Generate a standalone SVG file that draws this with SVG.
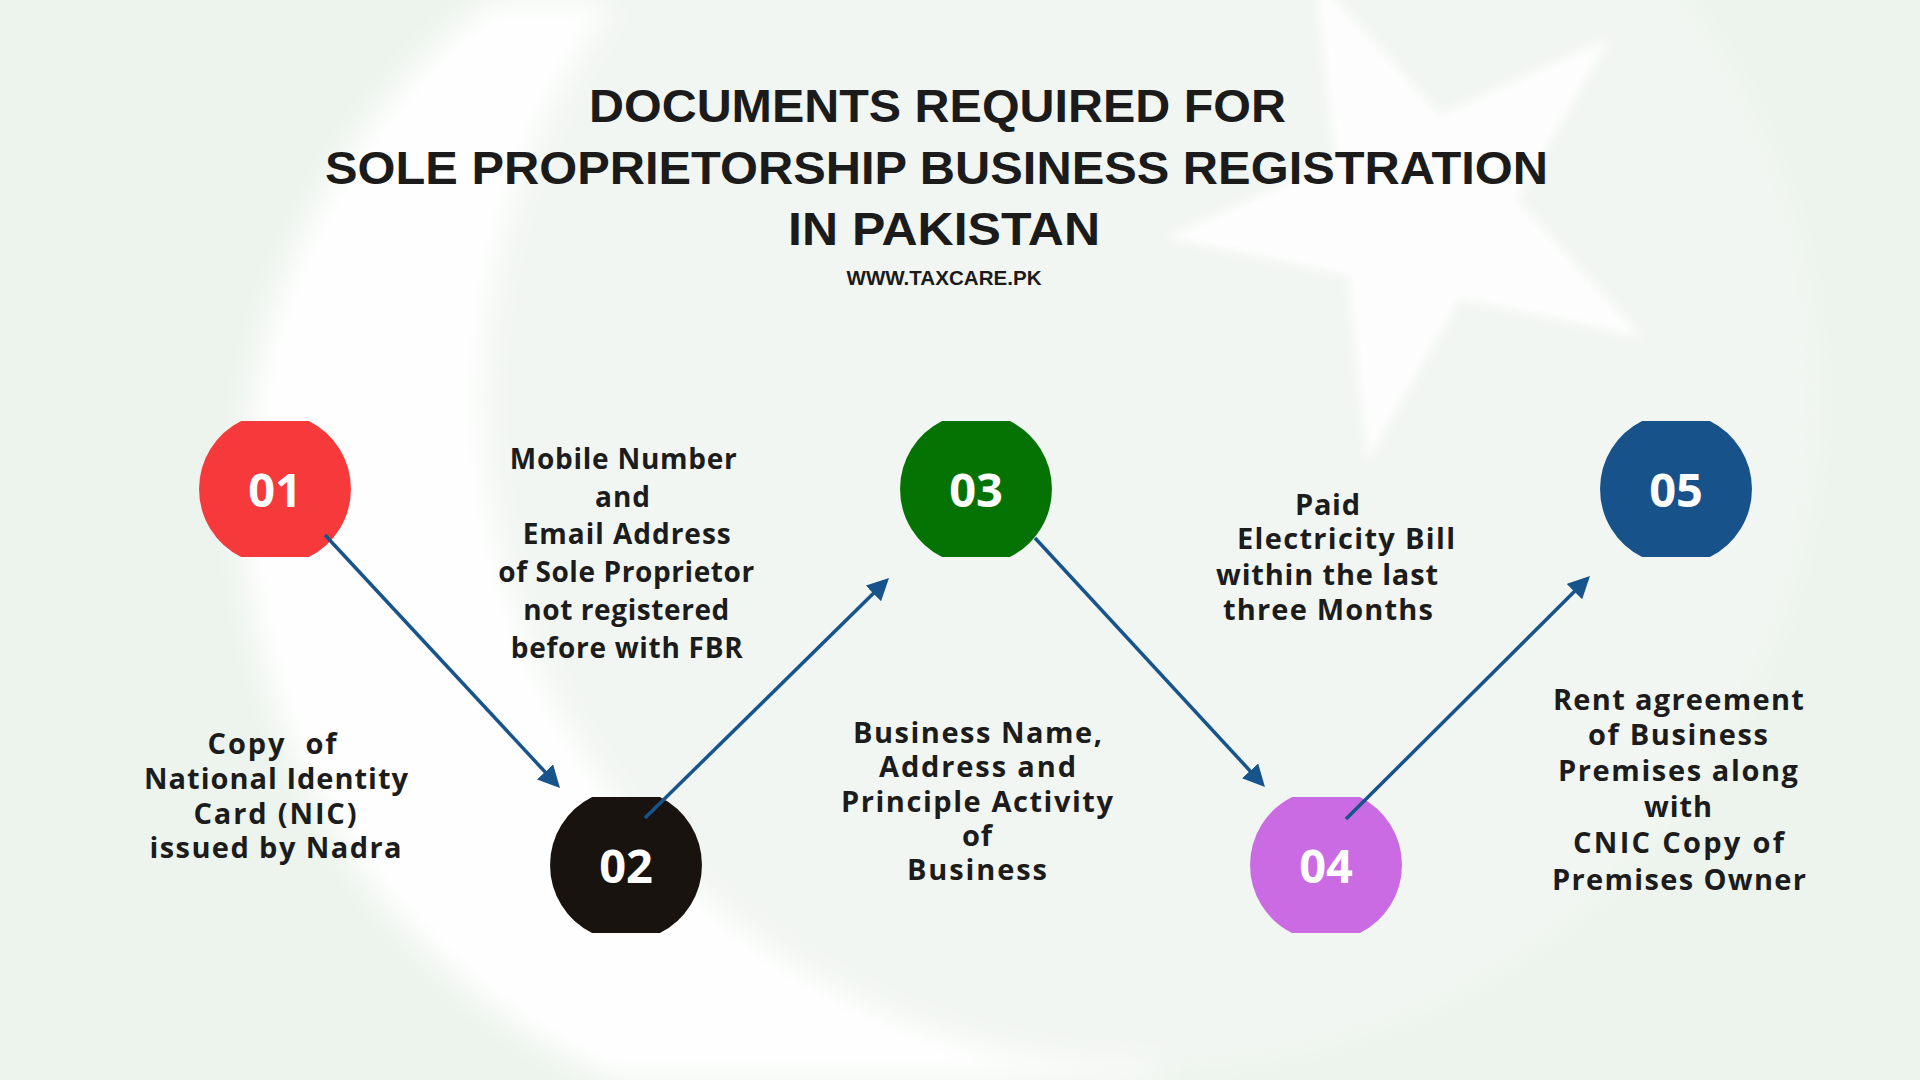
<svg xmlns="http://www.w3.org/2000/svg" xmlns:xlink="http://www.w3.org/1999/xlink" width="1920" height="1080" viewBox="0 0 1920 1080">
<style>
.title{font-family:"Liberation Sans",Arial,sans-serif;font-weight:700;fill:#1b1b1b;text-anchor:middle}
.body{font-family:"Open Sans","Liberation Sans",sans-serif;font-weight:700;fill:#1c1c1c;text-anchor:middle;font-size:29px}
.body2{font-size:28px}
.num{font-family:"Open Sans","Liberation Sans",sans-serif;font-weight:700;font-size:47px;fill:#ffffff;text-anchor:middle}
.arrow{stroke:#17548c;stroke-width:3.5;fill:none;marker-end:url(#ah)}
</style>
<defs>
  <filter id="soft" x="-20%" y="-20%" width="140%" height="140%">
    <feGaussianBlur stdDeviation="14"/>
  </filter>
  <filter id="softStar" x="-20%" y="-20%" width="140%" height="140%">
    <feGaussianBlur stdDeviation="5"/>
  </filter>
  <mask id="crescentMask" maskUnits="userSpaceOnUse" x="0" y="0" width="1920" height="1080">
    <circle cx="878" cy="503" r="635" fill="#fff"/>
    <circle cx="1150" cy="400" r="665" fill="#000"/>
  </mask>
  <path id="disc" d="M-33.9,-68H33.9A76,76 0 0 1 33.9,68H-33.9A76,76 0 0 1 -33.9,-68Z"/>
  <marker id="ah" markerUnits="userSpaceOnUse" markerWidth="24" markerHeight="24" refX="12" refY="11" orient="auto">
    <path d="M0,0 L22,11 L0,22 Z" fill="#17548c"/>
  </marker>
</defs>

<g id="background">
  <rect x="0" y="0" width="1920" height="1080" fill="#edf4ed"/>
  <circle cx="1150" cy="400" r="665" fill="#f2f6f2" filter="url(#soft)"/>
  <g filter="url(#soft)">
    <rect x="0" y="0" width="1920" height="1080" fill="#ffffff" opacity="0.95" mask="url(#crescentMask)"/>
  </g>
  <polygon filter="url(#softStar)" fill="#ffffff" opacity="0.85" points="1166.5,237.5 1335.8,161.8 1315.5,-22.6 1439.8,115 1608.9,38.7 1516.4,199.5 1641.3,336.7 1459.8,298.5 1367.9,459.6 1348.1,275.2"/>
</g>

<g id="title">
  <text class="title" x="937.5" y="122" font-size="46" textLength="697" lengthAdjust="spacingAndGlyphs">DOCUMENTS REQUIRED FOR</text>
  <text class="title" x="936.5" y="184" font-size="46" textLength="1223" lengthAdjust="spacingAndGlyphs">SOLE PROPRIETORSHIP BUSINESS REGISTRATION</text>
  <text class="title" x="944" y="245" font-size="46" textLength="312" lengthAdjust="spacingAndGlyphs">IN PAKISTAN</text>
  <text class="title" x="944" y="285" font-size="20" textLength="195" lengthAdjust="spacingAndGlyphs">WWW.TAXCARE.PK</text>
</g>

<g id="node-01">
  <use xlink:href="#disc" x="275" y="489" fill="#f63a3c"/>
  <text class="num" x="275" y="507">01</text>
  <text class="body" x="272" y="754" textLength="129" lengthAdjust="spacing" xml:space="preserve">Copy  of</text>
  <text class="body" x="276" y="789" textLength="264" lengthAdjust="spacing">National Identity</text>
  <text class="body" x="275" y="824" textLength="163" lengthAdjust="spacing">Card (NIC)</text>
  <text class="body" x="275.5" y="858" textLength="252" lengthAdjust="spacing">issued by Nadra</text>
</g>

<g id="node-02">
  <use xlink:href="#disc" x="626" y="865" fill="#18130f"/>
  <text class="num" x="626" y="883">02</text>
  <text class="body body2" x="623.3" y="469" textLength="227" lengthAdjust="spacing">Mobile Number</text>
  <text class="body body2" x="622.5" y="507" textLength="55" lengthAdjust="spacing">and</text>
  <text class="body body2" x="626.7" y="544" textLength="208" lengthAdjust="spacing">Email Address</text>
  <text class="body body2" x="626.2" y="582" textLength="256" lengthAdjust="spacing">of Sole Proprietor</text>
  <text class="body body2" x="626.3" y="620" textLength="206" lengthAdjust="spacing">not registered</text>
  <text class="body body2" x="626.7" y="658" textLength="232" lengthAdjust="spacing">before with FBR</text>
</g>

<g id="node-03">
  <use xlink:href="#disc" x="976" y="489" fill="#047304"/>
  <text class="num" x="976" y="507">03</text>
  <text class="body" x="977.5" y="743" textLength="249" lengthAdjust="spacing">Business Name,</text>
  <text class="body" x="977.5" y="777" textLength="197" lengthAdjust="spacing">Address and</text>
  <text class="body" x="977" y="812" textLength="272" lengthAdjust="spacing">Principle Activity</text>
  <text class="body" x="977" y="846" textLength="30" lengthAdjust="spacing">of</text>
  <text class="body" x="977" y="880" textLength="140" lengthAdjust="spacing">Business</text>
</g>

<g id="node-04">
  <use xlink:href="#disc" x="1326" y="865" fill="#ca6be4"/>
  <text class="num" x="1326" y="883">04</text>
  <text class="body" x="1327.5" y="515" textLength="65" lengthAdjust="spacing">Paid</text>
  <text class="body" x="1346" y="549" textLength="218" lengthAdjust="spacing">Electricity Bill</text>
  <text class="body" x="1327" y="585" textLength="222" lengthAdjust="spacing">within the last</text>
  <text class="body" x="1328" y="620" textLength="210" lengthAdjust="spacing">three Months</text>
</g>

<g id="node-05">
  <use xlink:href="#disc" x="1676" y="489" fill="#17528a"/>
  <text class="num" x="1676" y="507">05</text>
  <text class="body" x="1678.4" y="710" textLength="251" lengthAdjust="spacing">Rent agreement</text>
  <text class="body" x="1678" y="745" textLength="180" lengthAdjust="spacing">of Business</text>
  <text class="body" x="1678" y="781" textLength="240" lengthAdjust="spacing">Premises along</text>
  <text class="body" x="1678" y="817" textLength="68" lengthAdjust="spacing">with</text>
  <text class="body" x="1678.5" y="853" textLength="211" lengthAdjust="spacing">CNIC Copy of</text>
  <text class="body" x="1679" y="890" textLength="254" lengthAdjust="spacing">Premises Owner</text>
</g>

<g id="connectors">
  <line class="arrow" x1="325" y1="535" x2="553.2" y2="780.7"/>
  <line class="arrow" x1="645" y1="818" x2="881.9" y2="585"/>
  <line class="arrow" x1="1035" y1="538" x2="1258.2" y2="779.7"/>
  <line class="arrow" x1="1346" y1="819" x2="1582.9" y2="583.1"/>
</g>
</svg>
